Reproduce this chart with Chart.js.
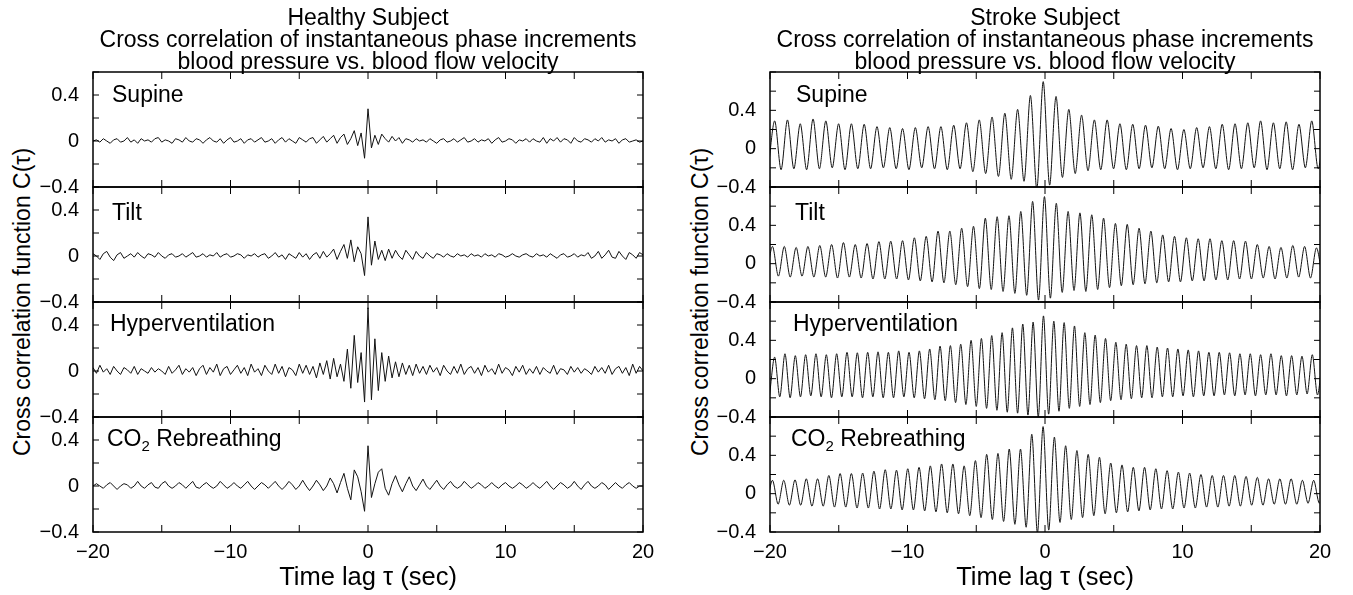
<!DOCTYPE html>
<html>
<head>
<meta charset="utf-8">
<script src="https://cdn.jsdelivr.net/npm/chart.js@4.4.0/dist/chart.umd.min.js"></script>
<style>
  body { margin: 0; background: #fff; width: 1353px; height: 595px; position: relative; overflow: hidden; font-family: "Liberation Sans", Arial, sans-serif; }
  canvas { position: absolute; }
  .ytitle { position: absolute; white-space: nowrap; font-size: 23px; color: #000; transform: translate(-50%, -50%) rotate(-90deg); }
</style>
</head>
<body>
<div class="ytitle" style="left:22px; top:302px;">Cross correlation function C(τ)</div>
<div class="ytitle" style="left:700px; top:302px;">Cross correlation function C(τ)</div>
<script>
// ---- text ----
const healthyTitle = ["Healthy Subject", "Cross correlation of instantaneous phase increments", "blood pressure vs. blood flow velocity"];
const strokeTitle = ["Stroke Subject", "Cross correlation of instantaneous phase increments", "blood pressure vs. blood flow velocity"];
const panelNames = ["Supine", "Tilt", "Hyperventilation", "CO₂ Rebreathing"];
const xTitle = "Time lag τ (sec)";
const xTickLabels = [-20, -10, 0, 10, 20];
const yTickLabels = [-0.4, 0, 0.4];

// ---- healthy subject: C(tau) sampled every 0.25 s from -20 to 20 ----
const healthyStart = -20, healthyStep = 0.25;
const healthySupine = [
  0.00, 0.01, -0.01, 0.02, 0.00, -0.02, 0.01, 0.02, -0.01, 0.00, 0.03, -0.01, 0.01, -0.02, 0.02, 0.00,
  0.01, -0.01, 0.02, 0.03, -0.01, 0.01, 0.00, -0.02, 0.02, 0.01, -0.01, 0.03, 0.00, -0.01, 0.02, 0.01,
  -0.02, 0.01, 0.03, 0.00, -0.01, 0.02, -0.02, 0.01, 0.03, -0.01, 0.00, 0.02, -0.02, 0.01, 0.02, -0.01,
  0.01, 0.03, -0.01, 0.00, 0.02, -0.02, 0.01, 0.03, -0.01, 0.02, 0.00, -0.02, 0.03, 0.01, -0.01, 0.02,
  0.03, -0.02, 0.01, 0.04, -0.01, 0.02, 0.05, -0.02, 0.03, 0.06, -0.03, 0.02, 0.09, -0.04, 0.07, -0.15,
  0.28, -0.06, 0.05, -0.03, 0.06, 0.02, -0.01, 0.04, 0.00, 0.03, -0.02, 0.02, 0.01, -0.01, 0.02, 0.00,
  0.01, -0.01, 0.02, 0.00, -0.02, 0.01, 0.02, -0.01, 0.00, 0.02, -0.01, 0.01, 0.03, -0.01, 0.00, 0.02,
  -0.01, 0.01, 0.00, 0.02, -0.02, 0.01, 0.03, -0.01, 0.00, 0.02, 0.01, -0.02, 0.01, 0.00, 0.02, -0.01,
  0.02, 0.00, -0.01, 0.03, -0.02, 0.02, 0.00, 0.03, -0.01, 0.02, 0.01, -0.02, 0.03, 0.00, -0.01, 0.02,
  0.01, -0.01, 0.02, 0.00, 0.03, -0.01, 0.01, 0.00, 0.02, -0.02, 0.01, 0.02, -0.01, 0.00, 0.01, -0.01,
  0.00
];
const healthyTilt = [
  0.02, 0.00, -0.03, 0.02, 0.04, -0.01, -0.04, 0.01, 0.03, -0.02, 0.00, 0.02, -0.01, 0.03, 0.00, -0.02,
  0.02, 0.01, -0.01, 0.03, 0.00, -0.02, 0.01, 0.02, -0.01, 0.00, 0.02, -0.01, 0.01, 0.03, -0.01, 0.00,
  0.02, -0.01, 0.01, 0.00, 0.03, -0.01, 0.01, 0.02, -0.01, 0.00, 0.02, 0.01, -0.02, 0.01, 0.00, 0.02,
  -0.01, 0.01, 0.02, -0.02, 0.00, 0.03, -0.01, 0.01, -0.03, 0.02, 0.00, -0.02, 0.03, -0.01, 0.02, -0.03,
  0.01, 0.03, -0.02, 0.04, -0.01, 0.02, 0.06, -0.03, 0.04, 0.10, -0.02, 0.14, -0.05, 0.08, 0.02, -0.17,
  0.34, -0.08, 0.13, -0.03, 0.05, -0.04, 0.06, -0.02, 0.05, 0.00, -0.03, 0.05, 0.01, -0.03, 0.04, 0.00,
  -0.02, 0.03, 0.00, -0.02, 0.02, 0.01, -0.01, 0.02, 0.00, -0.01, 0.02, 0.00, 0.01, -0.01, 0.02, 0.00,
  0.01, -0.01, 0.02, 0.00, 0.01, -0.01, 0.02, 0.01, -0.01, 0.00, 0.02, 0.00, -0.01, 0.01, 0.02, 0.00,
  -0.01, 0.02, 0.00, 0.01, -0.01, 0.02, 0.00, -0.02, 0.01, 0.02, -0.01, 0.00, 0.02, -0.01, 0.01, 0.00,
  0.03, -0.02, 0.00, 0.04, -0.02, 0.01, 0.05, -0.01, -0.02, 0.04, 0.00, -0.03, 0.03, 0.01, -0.02, 0.03,
  0.01
];
const healthyHyper = [
  0.03, -0.02, 0.05, -0.01, 0.02, -0.03, 0.04, 0.00, -0.03, 0.03, 0.01, -0.02, 0.04, -0.03, 0.02, 0.00,
  -0.02, 0.03, -0.01, 0.02, 0.00, -0.03, 0.04, -0.02, 0.01, 0.05, -0.03, 0.02, -0.01, 0.03, -0.04, 0.02,
  0.05, -0.03, 0.03, -0.01, 0.06, -0.04, 0.02, 0.04, -0.03, 0.01, 0.05, -0.02, 0.03, -0.04, 0.06, -0.01,
  0.02, -0.04, 0.05, 0.00, -0.03, 0.06, -0.02, 0.04, -0.05, 0.03, 0.01, -0.04, 0.06, -0.02, 0.05, -0.03,
  0.04, -0.06, 0.07, -0.03, 0.09, -0.07, 0.11, -0.05, 0.06, -0.09, 0.19, -0.15, 0.31, -0.10, 0.16, -0.27,
  0.55, -0.25, 0.28, -0.17, 0.16, -0.09, 0.13, -0.06, 0.08, -0.05, 0.07, -0.03, 0.05, -0.04, 0.06, -0.02,
  0.04, -0.03, 0.05, -0.01, 0.03, -0.04, 0.05, 0.00, -0.03, 0.04, -0.02, 0.06, -0.03, 0.02, 0.04, -0.02,
  0.03, -0.04, 0.05, -0.01, 0.02, -0.03, 0.06, -0.02, 0.03, 0.01, -0.04, 0.04, -0.01, 0.05, -0.03, 0.02,
  -0.02, 0.04, -0.03, 0.03, 0.00, -0.02, 0.05, -0.03, 0.02, 0.01, -0.03, 0.04, -0.01, 0.03, -0.02, 0.02,
  0.00, -0.03, 0.04, -0.01, 0.03, -0.02, 0.05, -0.03, 0.02, 0.04, -0.02, 0.03, -0.04, 0.06, -0.02, 0.04,
  0.00
];
const healthyCO2 = [
  0.00, 0.02, 0.00, -0.02, 0.01, 0.03, 0.00, -0.03, 0.00, 0.02, 0.01, -0.02, 0.00, 0.04, 0.00, -0.02,
  0.01, 0.03, -0.01, -0.02, 0.02, 0.04, 0.00, -0.02, 0.00, 0.03, 0.01, -0.02, 0.01, 0.04, -0.01, -0.02,
  0.01, 0.03, 0.00, -0.02, 0.00, 0.04, 0.01, -0.02, 0.00, 0.03, 0.00, -0.02, 0.01, 0.04, 0.00, -0.03,
  0.00, 0.03, 0.01, -0.02, 0.01, 0.04, 0.00, -0.03, 0.00, 0.04, 0.01, -0.03, 0.00, 0.05, 0.00, -0.04,
  0.00, 0.05, 0.01, -0.04, 0.00, 0.07, 0.02, -0.06, 0.03, 0.11, -0.02, -0.12, 0.14, 0.08, -0.05, -0.22,
  0.35, -0.10, 0.02, 0.12, 0.15, -0.02, -0.08, 0.02, 0.09, 0.01, -0.05, 0.02, 0.08, 0.00, -0.04, 0.01,
  0.06, 0.00, -0.03, 0.01, 0.05, 0.00, -0.03, 0.01, 0.04, 0.00, -0.02, 0.00, 0.04, 0.01, -0.02, 0.00,
  0.03, 0.01, -0.02, 0.00, 0.03, 0.00, -0.02, 0.01, 0.03, 0.00, -0.02, 0.00, 0.03, 0.01, -0.02, 0.00,
  0.03, 0.00, -0.02, 0.01, 0.04, 0.00, -0.03, 0.00, 0.03, 0.01, -0.02, 0.00, 0.04, 0.00, -0.03, 0.01,
  0.04, 0.00, -0.02, 0.00, 0.03, 0.01, -0.03, 0.00, 0.03, 0.00, -0.02, 0.01, 0.03, 0.00, -0.02, 0.00,
  0.00
];

// ---- stroke subject: trough / peak of each cycle, half a cycle apart ----
const strokeSupineStart = -20.125, strokeSupineHalf = 0.465;
const strokeSupineTroughs = [
  -0.20, -0.22, -0.21, -0.22, -0.21, -0.20, -0.22, -0.21, -0.21, -0.20,
  -0.21, -0.22, -0.20, -0.21, -0.22, -0.21, -0.24, -0.26, -0.29, -0.32,
  -0.34, -0.42, -0.38, -0.30, -0.26, -0.23, -0.22, -0.21, -0.22, -0.21,
  -0.20, -0.21, -0.22, -0.21, -0.20, -0.21, -0.22, -0.21, -0.20, -0.22,
  -0.21, -0.22, -0.20, -0.21
];
const strokeSupinePeaks = [
  0.29, 0.30, 0.26, 0.31, 0.29, 0.26, 0.26, 0.255, 0.23, 0.22,
  0.21, 0.22, 0.23, 0.23, 0.245, 0.27, 0.30, 0.33, 0.37, 0.41,
  0.555, 0.70, 0.545, 0.41, 0.35, 0.30, 0.30, 0.26, 0.255, 0.245,
  0.235, 0.21, 0.20, 0.22, 0.23, 0.255, 0.26, 0.27, 0.29, 0.27,
  0.28, 0.255, 0.29, 0.27
];
const strokeTiltStart = -20.25, strokeTiltHalf = 0.43;
const strokeTiltTroughs = [
  -0.13, -0.13, -0.14, -0.13, -0.14, -0.14, -0.15, -0.14, -0.15, -0.16,
  -0.16, -0.16, -0.17, -0.18, -0.19, -0.20, -0.22, -0.24, -0.26, -0.27,
  -0.29, -0.31, -0.33, -0.38, -0.36, -0.30, -0.28, -0.29, -0.27, -0.25,
  -0.23, -0.22, -0.21, -0.20, -0.19, -0.19, -0.18, -0.18, -0.17, -0.17,
  -0.16, -0.16, -0.15, -0.16, -0.15, -0.14, -0.15, -0.14
];
const strokeTiltPeaks = [
  0.18, 0.18, 0.17, 0.18, 0.19, 0.20, 0.22, 0.20, 0.21, 0.23,
  0.235, 0.24, 0.27, 0.285, 0.34, 0.34, 0.37, 0.39, 0.475, 0.49,
  0.50, 0.545, 0.65, 0.70, 0.63, 0.545, 0.53, 0.51, 0.475, 0.42,
  0.41, 0.37, 0.34, 0.30, 0.285, 0.27, 0.26, 0.26, 0.24, 0.24,
  0.235, 0.20, 0.18, 0.17, 0.19, 0.18, 0.165
];
const strokeHyperStart = -20.04, strokeHyperHalf = 0.376;
const strokeHyperTroughs = [
  -0.18, -0.19, -0.20, -0.19, -0.18, -0.19, -0.20, -0.19, -0.19, -0.20,
  -0.19, -0.20, -0.20, -0.19, -0.20, -0.21, -0.22, -0.23, -0.25, -0.27,
  -0.29, -0.31, -0.33, -0.35, -0.36, -0.38, -0.40, -0.37, -0.34, -0.31,
  -0.29, -0.27, -0.25, -0.23, -0.22, -0.21, -0.20, -0.20, -0.19, -0.19,
  -0.18, -0.19, -0.18, -0.18, -0.17, -0.18, -0.17, -0.18, -0.17, -0.17,
  -0.18, -0.17, -0.16, -0.17
];
const strokeHyperPeaks = [
  0.225, 0.26, 0.24, 0.25, 0.26, 0.25, 0.26, 0.275, 0.27, 0.275,
  0.28, 0.275, 0.29, 0.275, 0.29, 0.31, 0.34, 0.345, 0.36, 0.40,
  0.42, 0.45, 0.48, 0.53, 0.57, 0.59, 0.655, 0.60, 0.585, 0.55,
  0.48, 0.455, 0.42, 0.38, 0.36, 0.345, 0.345, 0.33, 0.32, 0.31,
  0.30, 0.29, 0.275, 0.275, 0.27, 0.26, 0.26, 0.25, 0.26, 0.24,
  0.24, 0.235, 0.25, 0.24
];
const strokeCO2Start = -20.23, strokeCO2Half = 0.41;
const strokeCO2Troughs = [
  -0.11, -0.11, -0.12, -0.12, -0.13, -0.13, -0.14, -0.14, -0.15, -0.15,
  -0.16, -0.16, -0.17, -0.17, -0.18, -0.19, -0.20, -0.21, -0.23, -0.25,
  -0.27, -0.29, -0.32, -0.35, -0.41, -0.38, -0.30, -0.27, -0.25, -0.23,
  -0.21, -0.20, -0.19, -0.18, -0.17, -0.16, -0.16, -0.15, -0.15, -0.14,
  -0.14, -0.13, -0.13, -0.12, -0.12, -0.11, -0.11, -0.11, -0.10, -0.10
];
const strokeCO2Peaks = [
  0.14, 0.14, 0.145, 0.155, 0.155, 0.19, 0.21, 0.21, 0.215, 0.235,
  0.25, 0.245, 0.26, 0.275, 0.29, 0.31, 0.31, 0.29, 0.345, 0.41,
  0.42, 0.465, 0.465, 0.62, 0.70, 0.59, 0.50, 0.45, 0.41, 0.38,
  0.32, 0.30, 0.275, 0.275, 0.26, 0.24, 0.225, 0.215, 0.20, 0.19,
  0.19, 0.19, 0.18, 0.17, 0.155, 0.155, 0.155, 0.14, 0.14, 0.13
];

function healthyPoints(values) {
  return values.map((v, i) => ({ x: healthyStart + i * healthyStep, y: v }));
}

function strokePoints(start, half, troughs, peaks) {
  const pts = [];
  for (let i = 0; i < troughs.length; i++) {
    pts.push({ x: start + 2 * i * half, y: troughs[i] });
    if (i < peaks.length) pts.push({ x: start + (2 * i + 1) * half, y: peaks[i] });
  }
  return pts;
}

const fontFamily = "'Liberation Sans', Arial, sans-serif";
Chart.defaults.font.family = fontFamily;
Chart.defaults.color = "#000";

function fmt(v) {
  const r = Math.round(v * 10) / 10;
  return (r < 0 ? "\u2212" : "") + Math.abs(r);
}

// frame, inward ticks and the panel name
const panelFrame = {
  id: "panelFrame",
  afterDatasetsDraw(chart, args, opts) {
    const { ctx, chartArea: a, scales } = chart;
    ctx.save();
    ctx.strokeStyle = "#000";
    ctx.lineWidth = 1;
    ctx.beginPath();
    scales.x.ticks.forEach((t) => {
      const px = scales.x.getPixelForValue(t.value);
      ctx.moveTo(px, a.top);
      ctx.lineTo(px, a.top + 7);
      ctx.moveTo(px, a.bottom);
      ctx.lineTo(px, a.bottom - 7);
    });
    scales.y.ticks.forEach((t) => {
      const py = scales.y.getPixelForValue(t.value);
      ctx.moveTo(a.left, py);
      ctx.lineTo(a.left + 6, py);
      ctx.moveTo(a.right, py);
      ctx.lineTo(a.right - 6, py);
    });
    ctx.stroke();
    ctx.lineWidth = 1.5;
    ctx.strokeRect(a.left, a.top, a.right - a.left, a.bottom - a.top);

    // panel name, with a real subscript for CO2
    const x0 = a.left + opts.dx;
    const y0 = a.top + opts.baseline;
    ctx.fillStyle = "#000";
    ctx.textBaseline = "alphabetic";
    ctx.textAlign = "left";
    const parts = opts.label.split("₂");
    ctx.font = "23px " + fontFamily;
    ctx.fillText(parts[0], x0, y0);
    if (parts.length > 1) {
      let x = x0 + ctx.measureText(parts[0]).width;
      ctx.font = "15px " + fontFamily;
      ctx.fillText("2", x, y0 + 5);
      x += ctx.measureText("2").width;
      ctx.font = "23px " + fontFamily;
      ctx.fillText(parts[1], x, y0);
    }
    ctx.restore();
  },
};

const panelTop = [72, 187, 302, 417];
const panelHeight = 115;
const pageHeight = 595;
const labelBaseline = [30, 33, 29, 29];

const columns = [
  {
    left: 0, width: 680, plotLeft: 93, plotRight: 643, ymax: 0.6,
    title: healthyTitle, tension: 0, labelDx: [19, 19, 17, 14],
    series: [healthyPoints(healthySupine), healthyPoints(healthyTilt), healthyPoints(healthyHyper), healthyPoints(healthyCO2)],
  },
  {
    left: 680, width: 673, plotLeft: 770, plotRight: 1320, ymax: 0.8,
    title: strokeTitle, tension: 0.3, labelDx: [26, 25, 23, 21],
    series: [
      strokePoints(strokeSupineStart, strokeSupineHalf, strokeSupineTroughs, strokeSupinePeaks),
      strokePoints(strokeTiltStart, strokeTiltHalf, strokeTiltTroughs, strokeTiltPeaks),
      strokePoints(strokeHyperStart, strokeHyperHalf, strokeHyperTroughs, strokeHyperPeaks),
      strokePoints(strokeCO2Start, strokeCO2Half, strokeCO2Troughs, strokeCO2Peaks),
    ],
  },
];

columns.forEach((col) => {
  for (let k = 0; k < 4; k++) {
    const isTop = k === 0;
    const isBottom = k === 3;
    const canvasTop = isTop ? 0 : panelTop[k] - 14;
    const canvasBottom = isBottom ? pageHeight : panelTop[k] + panelHeight + 14;
    const canvas = document.createElement("canvas");
    canvas.width = col.width;
    canvas.height = canvasBottom - canvasTop;
    canvas.style.left = col.left + "px";
    canvas.style.top = canvasTop + "px";
    document.body.appendChild(canvas);

    new Chart(canvas.getContext("2d"), {
      type: "line",
      data: {
        datasets: [
          {
            data: col.series[k],
            borderColor: "#111",
            borderWidth: 1,
            pointRadius: 0,
            tension: col.tension,
            fill: false,
          },
        ],
      },
      options: {
        responsive: false,
        animation: false,
        events: [],
        layout: {
          padding: {
            top: isTop ? 7.5 : 14,
            bottom: isBottom ? 0 : 14,
            left: 0,
            right: col.width - (col.plotRight - col.left),
          },
        },
        scales: {
          x: {
            type: "linear",
            min: -20,
            max: 20,
            afterFit: (s) => {
              s.height = isBottom ? 63 : 0;
              s.paddingLeft = 0;
              s.paddingRight = 0;
            },
            grid: { display: false, drawTicks: false },
            border: { display: false },
            ticks: {
              display: isBottom,
              stepSize: 5,
              autoSkip: false,
              maxRotation: 0,
              padding: 8,
              font: { size: 20 },
              callback: (v) => (xTickLabels.includes(v) ? fmt(v) : ""),
            },
            title: {
              display: isBottom,
              text: xTitle,
              font: { size: 25.5, lineHeight: "25px" },
              padding: { top: 0, bottom: 4.5 },
            },
          },
          y: {
            min: -0.4,
            max: col.ymax,
            afterFit: (s) => {
              s.width = col.plotLeft - col.left;
              s.paddingTop = 0;
              s.paddingBottom = 0;
            },
            grid: { display: false, drawTicks: false },
            border: { display: false },
            ticks: {
              stepSize: 0.2,
              autoSkip: false,
              padding: 14,
              font: { size: 20 },
              callback: (v) => (yTickLabels.includes(Math.round(v * 10) / 10) ? fmt(v) : ""),
            },
          },
        },
        plugins: {
          legend: { display: false },
          tooltip: { enabled: false },
          title: {
            display: isTop,
            text: col.title,
            fullSize: false,
            color: "#000",
            font: { size: 23, weight: "normal", lineHeight: "22px" },
            padding: { top: 0, bottom: -1.5 },
          },
          panelFrame: { label: panelNames[k], dx: col.labelDx[k], baseline: labelBaseline[k] },
        },
      },
      plugins: [panelFrame],
    });
  }
});
</script>
</body>
</html>
